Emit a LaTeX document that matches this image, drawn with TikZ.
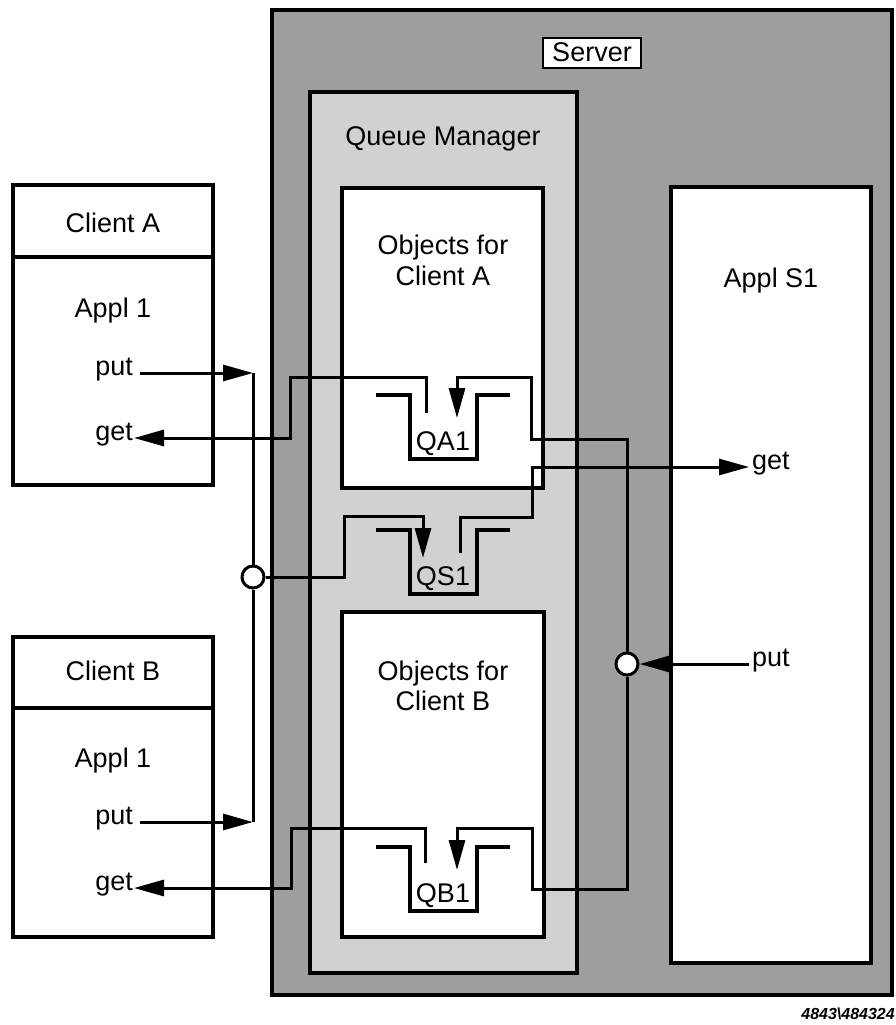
\documentclass[tikz,border=0pt]{standalone}
\usepackage{fontspec}
\setmainfont{Liberation Sans}
\usetikzlibrary{arrows.meta}
\definecolor{srvfill}{gray}{0.62}
\definecolor{qmfill}{gray}{0.82}
\begin{document}
\begin{tikzpicture}[x=1pt,y=-1pt,
  box/.style={draw, line width=3.4pt, inner sep=0pt, outer sep=0pt, anchor=north west},
  lbl/.style={font=\fontsize{27}{30}\selectfont, inner sep=0pt, anchor=base},
  io/.style={font=\fontsize{27}{30}\selectfont, inner ysep=0pt},
  conn/.style={line width=3pt},
  arr/.style={conn, -{Triangle[length=30pt,width=16pt]}},
  junction/.style={circle, draw, fill=white, line width=3pt, minimum size=22pt, inner sep=0pt},
  qline/.style={line width=3.4pt},
  pics/queue/.style={code={
    \draw[qline] (-67,0) -- (-33,0) -- (-33,64) -- (34,64) -- (34,0) -- (67,0);
    \node[lbl] (-t) at (0,55) {#1};
  }},
]
\useasboundingbox (0,0) rectangle (896,1025);

% containers
\node[box, fill=srvfill, minimum width=620pt, minimum height=985pt] (server) at (272,10) {};
\node[box, fill=qmfill, minimum width=267pt, minimum height=881pt] (qm) at (310,92) {};
\node[box, fill=white, minimum width=201pt, minimum height=300pt] (objA) at (342,188) {};
\node[box, fill=white, minimum width=202pt, minimum height=325pt] (objB) at (342,612) {};
\node[box, fill=white, minimum width=200pt, minimum height=776pt] (appl) at (671,187) {};
\node[box, fill=white, minimum width=200pt, minimum height=300pt] (clientA) at (13,185) {};
\node[box, fill=white, minimum width=200pt, minimum height=300pt] (clientB) at (13,637) {};
\draw[line width=3.4pt] (clientA.west |- 0,257) -- (clientA.east |- 0,257);
\draw[line width=3.4pt] (clientB.west |- 0,708) -- (clientB.east |- 0,708);

% labels
\node[draw, fill=white, line width=1.8pt, font=\fontsize{27}{30}\selectfont,
      inner xsep=9pt, inner ysep=4pt, text height=20pt, text depth=2pt, anchor=base] (srvlbl) at (592,62) {Server};
\node[lbl] (qmlbl) at (443,145) {Queue Manager};
\node[lbl] (objA1) at (443,254) {Objects for};
\node[lbl] (objA2) at (443,285) {Client A};
\node[lbl] (objB1) at (443,680) {Objects for};
\node[lbl] (objB2) at (443,710) {Client B};
\node[lbl] (appllbl) at (771,287) {Appl S1};
\node[lbl] (cAname) at (113,232) {Client A};
\node[lbl] (cAappl) at (113,317) {Appl 1};
\node[lbl] (cBname) at (113,680) {Client B};
\node[lbl] (cBappl) at (113,767) {Appl 1};

\node[io, anchor=mid east, inner xsep=7pt] (putA) at (140,373) {put};
\node[io, anchor=mid east, inner xsep=1pt] (getA) at (134,438) {get};
\node[io, anchor=mid east, inner xsep=7pt] (putB) at (140,822) {put};
\node[io, anchor=mid east, inner xsep=1pt] (getB) at (134,888) {get};
\node[io, anchor=mid west, inner xsep=3pt] (getS) at (749,467) {get};
\node[io, anchor=mid west, inner xsep=3pt] (putS) at (749,664) {put};

% queues
\pic (qa1) at (443,395) {queue=QA1};
\pic (qs1) at (443,530) {queue=QS1};
\pic (qb1) at (443,847) {queue=QB1};

% connection points
\coordinate (busA) at (253,373);
\coordinate (busB) at (253,822);
\node[junction] (jA) at (253,577) {};
\node[junction] (jS) at (627,664) {};
\coordinate (qa1in) at (457,418);
\coordinate (qa1out) at (426,413);
\coordinate (qs1in) at (423,558);
\coordinate (qs1out) at (460,553);
\coordinate (qb1in) at (457,870);
\coordinate (qb1out) at (425,863);
\coordinate (kA1) at (531,439);
\coordinate (kA2) at (457,377);
\coordinate (kA3) at (290,377);
\coordinate (kB1) at (532,889);
\coordinate (kB2) at (457,828);
\coordinate (kB3) at (291,828);
\coordinate (kS1) at (344,516);
\coordinate (kS2) at (532,517);

% connectors
\draw[arr] (putA.mid east) -- (busA);
\draw[arr] (putB.mid east) -- (busB);
\draw[conn] (busA) -- (jA.north);
\draw[conn] (jA.south) -- (busB);
\draw[arr] (jA.east) -| (kS1) -| (qs1in);
\draw[arr] (qs1out) |- (kS2) |- (getS.mid west);
\draw[arr] (putS.mid west) -- (jS.east);
\draw[arr] (jS.north) |- (kA1) |- (kA2) -- (qa1in);
\draw[arr] (qa1out) |- (kA3) |- (getA.mid east);
\draw[arr] (jS.south) |- (kB1) |- (kB2) -- (qb1in);
\draw[arr] (qb1out) |- (kB3) |- (getB.mid east);

\node[font=\bfseries\itshape\fontsize{16}{18}\selectfont, inner sep=0pt, anchor=base east] (fig) at (895,1019) {4843\textbackslash 484324};
\end{tikzpicture}
\end{document}
